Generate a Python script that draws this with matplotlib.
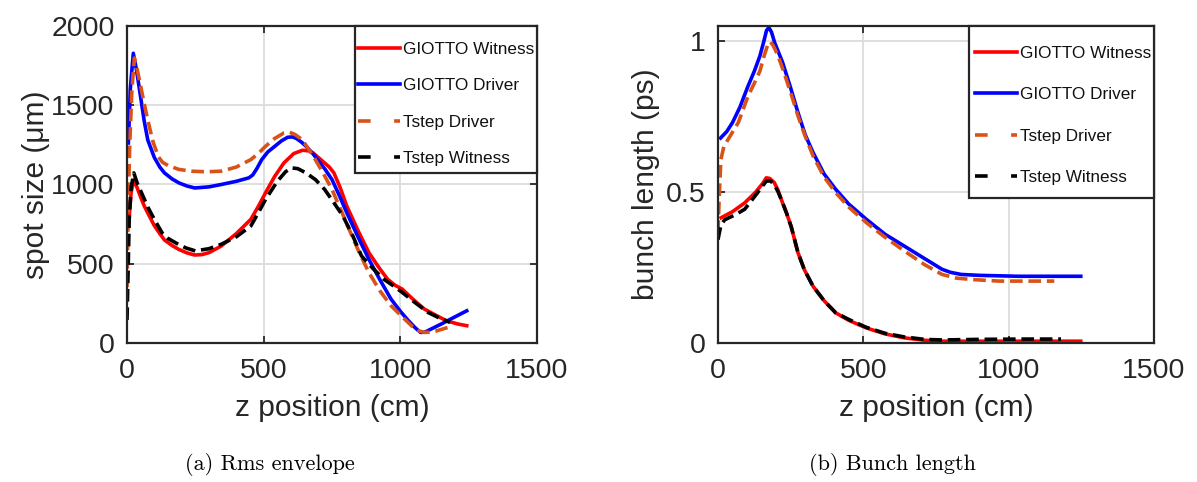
import matplotlib
matplotlib.use("Agg")
import matplotlib.pyplot as plt
from matplotlib.lines import Line2D
from matplotlib.patches import Rectangle

plt.rcParams['font.family'] = ['Liberation Sans', 'DejaVu Sans']

# ---- (a) rms envelope: spot size (um) vs z (cm)
z_gw_a = [5, 15, 25, 37, 50, 63, 76, 100, 120, 137, 165, 190, 220, 248, 275, 300, 345, 400, 453, 480,
          507, 540, 574, 610, 642, 665, 680, 709, 740, 757, 780, 804, 845, 885, 920, 953, 980, 1007, 1050,
          1088, 1130, 1169, 1210, 1243]
spot_gw = [732, 950, 1028, 980, 920, 865, 820, 740, 690, 650, 615, 590, 568, 555, 558, 570, 612, 690, 780, 860,
           948, 1050, 1136, 1195, 1216, 1212, 1200, 1157, 1110, 1073, 980, 864, 710, 570, 480, 403, 365, 340, 270,
           214, 175, 140, 120, 109]

z_gd_a = [5, 12, 23, 35, 50, 63, 76, 100, 120, 137, 165, 190, 220, 248, 300, 345, 400, 446, 460, 475,
          493, 515, 540, 565, 588, 605, 620, 640, 655, 680, 700, 725, 750, 777, 804, 845, 885, 925, 966,
          1000, 1030, 1055, 1074, 1090, 1101, 1150, 1200, 1243]
spot_gd = [1262, 1600, 1828, 1720, 1550, 1400, 1281, 1170, 1110, 1073, 1035, 1010, 990, 978, 985, 1000, 1020, 1042, 1060, 1100,
           1157, 1205, 1240, 1275, 1298, 1300, 1290, 1265, 1241, 1195, 1150, 1095, 1031, 930, 822, 670, 528, 400, 277,
           200, 140, 95, 67, 68, 78, 120, 165, 203]

z_td_a = [0, 5, 10, 18, 27, 38, 50, 63, 76, 95, 115, 130, 150, 190, 236, 290, 345, 400, 453, 480,
          507, 540, 574, 595, 615, 635, 650, 682, 715, 750, 785, 818, 850, 885, 925, 966, 1010, 1047, 1070,
          1088, 1110, 1130, 1176]
spot_td = [353, 900, 1250, 1600, 1798, 1720, 1620, 1510, 1407, 1270, 1174, 1140, 1120, 1095, 1084, 1080, 1084, 1110, 1157, 1195,
           1241, 1290, 1325, 1330, 1315, 1290, 1260, 1178, 1080, 969, 830, 696, 570, 444, 330, 235, 160, 99, 75,
           67, 68, 75, 99]

z_tw_a = [0, 4, 8, 15, 25, 37, 50, 76, 100, 128, 150, 180, 215, 250, 300, 345, 400, 453, 480, 507,
          550, 580, 601, 625, 655, 690, 723, 755, 790, 825, 858, 900, 939, 975, 1007, 1050, 1101, 1140, 1182]
spot_tw = [145, 450, 776, 980, 1073, 1010, 960, 858, 780, 696, 660, 630, 600, 581, 595, 623, 670, 738, 820, 906,
           1020, 1080, 1105, 1100, 1073, 1030, 969, 890, 801, 680, 549, 470, 403, 360, 319, 260, 193, 160, 130]

# ---- (b) bunch length (ps) vs z (cm)
z_gd_b = [9, 30, 50, 75, 103, 125, 144, 158, 167, 175, 184, 195, 222, 250, 275, 300, 327, 365, 405, 450, 510,
          575, 641, 710, 771, 800, 837, 900, 1033, 1150, 1248]
blen_gd = [0.679, 0.70, 0.73, 0.78, 0.85, 0.90, 0.95, 1.0, 1.035, 1.045, 1.03, 0.995, 0.93, 0.845, 0.764, 0.69, 0.631, 0.56, 0.509, 0.46, 0.41,
           0.36, 0.321, 0.28, 0.244, 0.234, 0.227, 0.224, 0.221, 0.221, 0.221]

z_td_b = [0, 5, 10, 20, 34, 70, 103, 125, 144, 160, 172, 180, 190, 205, 222, 250, 275, 300, 327, 365, 405,
          450, 510, 575, 641, 710, 771, 820, 876, 967, 1060, 1157]
blen_td = [0.365, 0.5, 0.607, 0.65, 0.673, 0.73, 0.817, 0.86, 0.90, 0.955, 0.99, 0.998, 0.985, 0.955, 0.91, 0.83, 0.753, 0.685, 0.62, 0.55, 0.498,
           0.45, 0.399, 0.35, 0.305, 0.26, 0.227, 0.215, 0.21, 0.205, 0.205, 0.205]

z_gw_b = [11, 50, 92, 130, 155, 166, 178, 194, 207, 220, 236, 252, 275, 297, 327, 365, 405, 450, 510, 575,
          641, 710, 771, 900, 1050, 1248]
blen_gw = [0.415, 0.435, 0.464, 0.50, 0.53, 0.547, 0.545, 0.531, 0.505, 0.47, 0.43, 0.385, 0.30, 0.243, 0.188, 0.14, 0.10, 0.075, 0.05, 0.03,
           0.017, 0.009, 0.006, 0.006, 0.006, 0.006]

z_tw_b = [0, 10, 23, 60, 92, 130, 166, 180, 194, 207, 220, 236, 252, 275, 297, 327, 365, 405, 450, 510,
          575, 641, 710, 771, 900, 1050, 1180]
blen_tw = [0.342, 0.39, 0.408, 0.425, 0.443, 0.49, 0.536, 0.537, 0.525, 0.50, 0.47, 0.43, 0.385, 0.30, 0.243, 0.188, 0.14, 0.10, 0.078, 0.052,
           0.032, 0.02, 0.012, 0.01, 0.012, 0.013, 0.013]

labels = ['GIOTTO Witness', 'GIOTTO Driver', 'Tstep Driver', 'Tstep Witness']
colors = ['#ff0000', '#0000ff', '#D95319', '#000000']
xticks = [0, 500, 1000, 1500]

dash = (0, (3.5, 1.6))
lw = 2.6
axcol = '#262626'

fig = plt.figure(figsize=(11.97, 4.82), dpi=100)
ax1 = fig.add_axes([0.1061, 0.2884, 0.3425, 0.6577])
ax2 = fig.add_axes([0.5998, 0.2884, 0.3643, 0.6577])


def style(ax):
    ax.grid(True, color='#dcdcdc', lw=1.3)
    ax.set_axisbelow(True)
    for s in ax.spines.values():
        s.set_color(axcol)
        s.set_linewidth(1.6)
    ax.tick_params(direction='in', length=5, width=1.3, top=True, right=True,
                   labelsize=20.5, colors=axcol, pad=9)
    ax.tick_params(axis='x', pad=11)
    ax.set_xlim(0, 1500)
    ax.set_xticks(xticks)
    ax.set_xlabel('z position (cm)', fontsize=21.5, color=axcol, labelpad=7)


# (a)
ax1.plot(z_gw_a, spot_gw, color=colors[0], lw=lw)
ax1.plot(z_gd_a, spot_gd, color=colors[1], lw=lw)
ax1.plot(z_td_a, spot_td, color=colors[2], lw=lw, ls=dash)
ax1.plot(z_tw_a, spot_tw, color=colors[3], lw=lw, ls=dash)
style(ax1)
ax1.set_ylim(0, 2000)
ax1.set_yticks([0, 500, 1000, 1500, 2000])
ax1.set_ylabel('spot size (\u03bcm)', fontsize=21.5, color=axcol, labelpad=1)

# (b)
ax2.plot(z_gw_b, blen_gw, color=colors[0], lw=lw)
ax2.plot(z_gd_b, blen_gd, color=colors[1], lw=lw)
ax2.plot(z_td_b, blen_td, color=colors[2], lw=lw, ls=dash)
ax2.plot(z_tw_b, blen_tw, color=colors[3], lw=lw, ls=dash)
style(ax2)
ax2.set_ylim(0, 1.05)
ax2.set_yticks([0, 0.5, 1])
ax2.set_yticklabels(['0', '0.5', '1'])
ax2.set_ylabel('bunch length (ps)', fontsize=21.5, color=axcol, labelpad=4)

# legend handles drawn MATLAB-like ("-  -" for dashed)
handles = [Line2D([], [], color=colors[0], lw=lw),
           Line2D([], [], color=colors[1], lw=lw),
           Line2D([], [], color=colors[2], lw=lw, ls=(0, (3.5, 6.5))),
           Line2D([], [], color=colors[3], lw=lw, ls=(0, (3.5, 6.5)))]

# box (x0, y0) in axes coords, legend anchor, row spacing
legend_boxes = [(ax1, (0.556, 0.536), (0.563, 0.950), 1.25),
                (ax2, (0.576, 0.457), (0.589, 0.937), 1.55)]
for ax, (bx, by), anchor, sp in legend_boxes:
    ax.add_patch(Rectangle((bx, by), 1 - bx, 1 - by, transform=ax.transAxes, facecolor='white',
                           edgecolor=axcol, lw=1.6, zorder=5, clip_on=False))
    leg = ax.legend(handles, labels, loc='upper left', bbox_to_anchor=anchor, fontsize=12.3, frameon=False,
                    borderaxespad=0, borderpad=0, handlelength=2.46, handletextpad=0.18, labelspacing=sp)
    leg.set_zorder(6)
    for t in leg.get_texts():
        t.set_color('#111111')

fig.text(0.2256, 0.037, '(a) Rms envelope', family='cmr10', fontsize=16, ha='center', va='center')
fig.text(0.7452, 0.037, '(b) Bunch length', family='cmr10', fontsize=16, ha='center', va='center')

fig.savefig('out.png', dpi=100)
